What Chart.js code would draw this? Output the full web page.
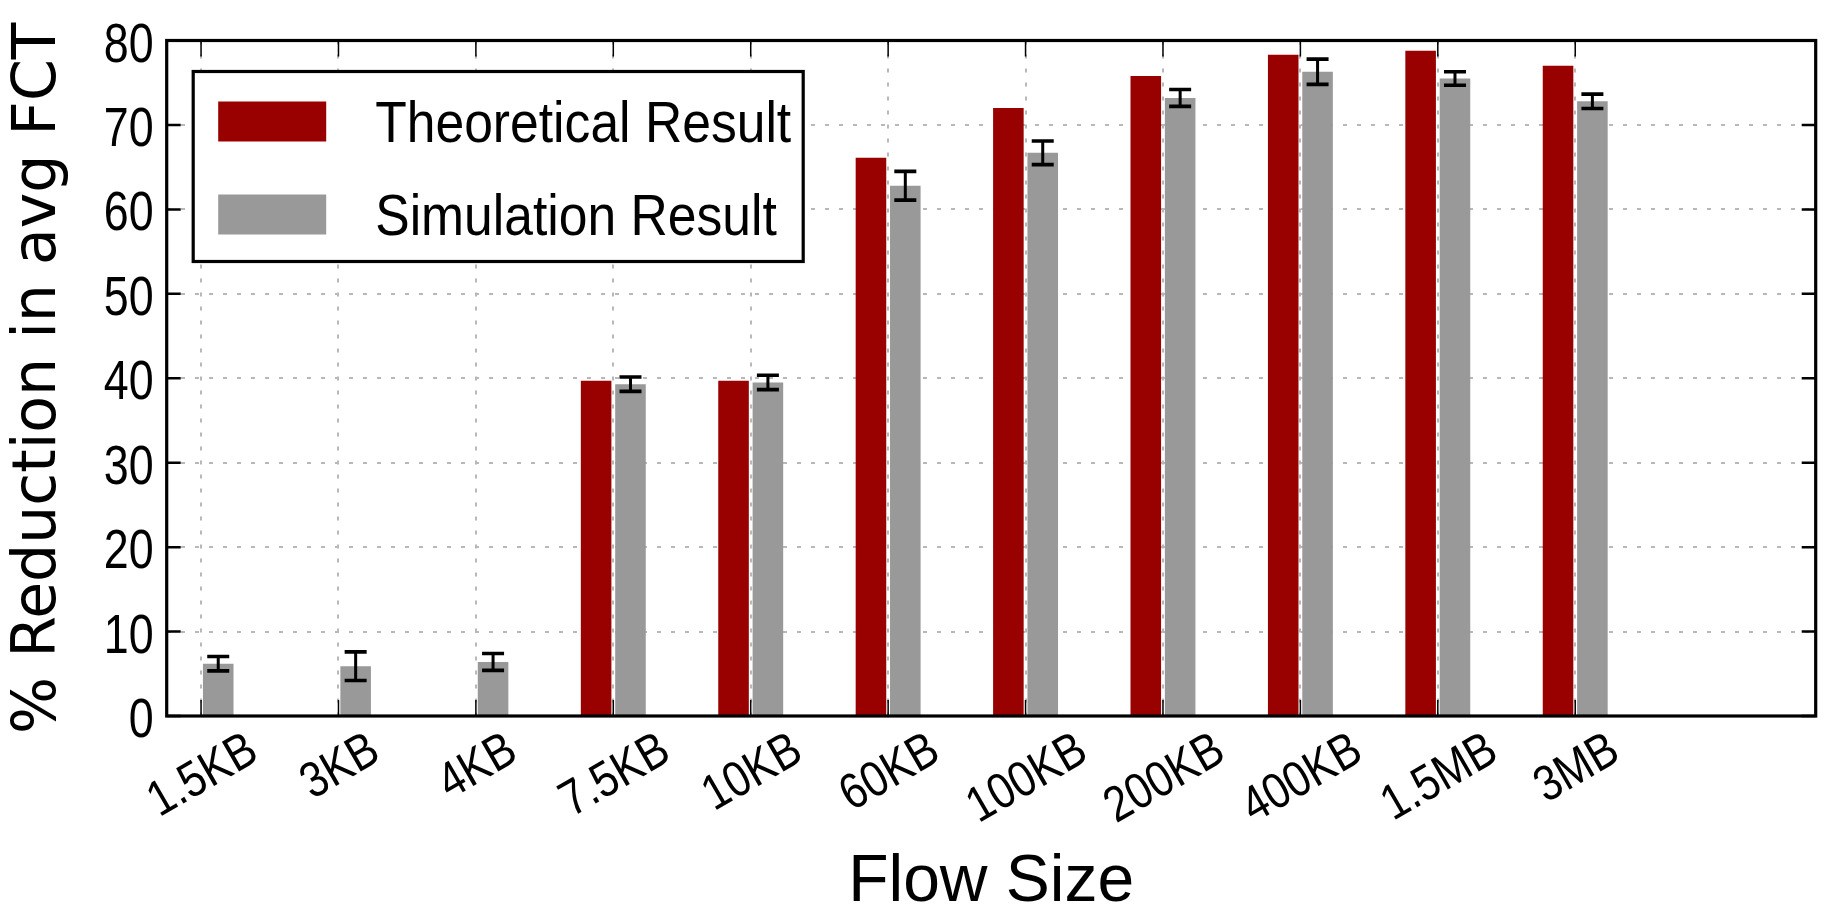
<!DOCTYPE html>
<html>
<head>
<meta charset="utf-8">
<script src="https://cdn.jsdelivr.net/npm/chart.js@4.4.1/dist/chart.umd.min.js"></script>
<style>
  html, body { margin: 0; padding: 0; background: #ffffff; }
  #wrap { width: 1825px; height: 914px; }
</style>
</head>
<body>
<div id="wrap"><canvas id="chart" width="1825" height="914"></canvas></div>
<script>
// Flow-size categories and measured reductions (%) in average FCT
const flowSizes = ['1.5KB', '3KB', '4KB', '7.5KB', '10KB', '60KB', '100KB', '200KB', '400KB', '1.5MB', '3MB'];
const theoretical = [null, null, null, 39.7, 39.7, 66.1, 72.0, 75.8, 78.3, 78.8, 77.0];
const simulation = [6.2, 5.9, 6.4, 39.3, 39.5, 62.8, 66.7, 73.2, 76.3, 75.5, 72.8];
const simulationErr = [0.85, 1.7, 1.0, 0.85, 0.85, 1.7, 1.4, 1.0, 1.5, 0.8, 0.85];
const yTickValues = [0, 10, 20, 30, 40, 50, 60, 70, 80];

const SANS = '"Liberation Sans", Arial, sans-serif';
const RED = '#990000';
const GREY = '#999999';

// text squeezed horizontally to get a narrow face
function narrowText(ctx, text, x, y, size, align, squeeze, angle) {
  ctx.save();
  ctx.translate(x, y);
  if (angle) ctx.rotate(angle);
  ctx.scale(squeeze, 1);
  ctx.font = size + 'px ' + SANS;
  ctx.textAlign = align;
  ctx.textBaseline = 'alphabetic';
  ctx.fillText(text, 0, 0);
  ctx.restore();
}

// Error bars, inward tick marks, axes frame, tick labels, boxed legend
const decorations = {
  id: 'decorations',
  afterDraw(chart) {
    const { ctx, chartArea: a, scales: { x, y } } = chart;
    ctx.save();
    ctx.fillStyle = '#000';
    ctx.strokeStyle = '#000';

    // error bars on the simulation bars
    const simMeta = chart.getDatasetMeta(1);
    simMeta.data.forEach((bar, i) => {
      const v = simulation[i];
      const e = simulationErr[i];
      if (v == null) return;
      const cx = bar.x;
      const yt = y.getPixelForValue(v + e);
      const yb = y.getPixelForValue(v - e);
      ctx.lineWidth = 3;
      ctx.beginPath();
      ctx.moveTo(cx, yt); ctx.lineTo(cx, yb);
      ctx.stroke();
      ctx.lineWidth = 3.6;
      ctx.beginPath();
      ctx.moveTo(cx - 11, yt); ctx.lineTo(cx + 11, yt);
      ctx.moveTo(cx - 11, yb); ctx.lineTo(cx + 11, yb);
      ctx.stroke();
    });

    // tick marks pointing into the plot on all four sides
    ctx.lineWidth = 1.5;
    x.ticks.forEach((t) => {
      const px = x.getPixelForValue(t.value);
      ctx.beginPath();
      ctx.moveTo(px, a.top); ctx.lineTo(px, a.top + 16);
      ctx.moveTo(px, a.bottom); ctx.lineTo(px, a.bottom - 16);
      ctx.stroke();
    });
    ctx.lineWidth = 2.5;
    y.ticks.forEach((t) => {
      const py = y.getPixelForValue(t.value);
      ctx.beginPath();
      ctx.moveTo(a.left, py); ctx.lineTo(a.left + 14, py);
      ctx.moveTo(a.right, py); ctx.lineTo(a.right - 14, py);
      ctx.stroke();
    });

    // axes frame
    ctx.lineWidth = 3.2;
    ctx.strokeRect(a.left, a.top, a.right - a.left, a.bottom - a.top);

    // value labels on the y axis
    const ySize = 56;
    y.ticks.forEach((t) => {
      const py = y.getPixelForValue(t.value);
      narrowText(ctx, String(t.value), a.left - 13, py + 0.716 * ySize / 2 + 1, ySize, 'right', 0.8, 0);
    });

    // category labels, slanted 30 degrees and centred under each tick
    const theta = 30 * Math.PI / 180;
    const xSize = 50;
    const xSqueeze = 0.86;
    ctx.font = xSize + 'px ' + SANS;
    flowSizes.forEach((label, i) => {
      const px = x.getPixelForValue(i);
      const L = ctx.measureText(label).width * xSqueeze;
      const H = 0.716 * xSize;
      const wb = L * Math.cos(theta) + H * Math.sin(theta);
      const hb = L * Math.sin(theta) + H * Math.cos(theta);
      const cy = a.bottom + 12 + hb / 2;
      // start of baseline so the rotated box is centred on (px, cy)
      const bx = px - wb / 2 + H * Math.sin(theta);
      const by = cy + hb / 2;
      narrowText(ctx, label, bx, by, xSize, 'left', xSqueeze, -theta);
    });

    // legend box
    const box = { x: a.left + 26.5, y: a.top + 31, w: 610, h: 190 };
    ctx.fillStyle = '#ffffff';
    ctx.fillRect(box.x, box.y, box.w, box.h);
    ctx.lineWidth = 3.2;
    ctx.strokeRect(box.x, box.y, box.w, box.h);
    const rows = [50, 143];
    const lSize = 58;
    chart.data.datasets.forEach((ds, i) => {
      const cy = box.y + rows[i];
      ctx.fillStyle = ds.backgroundColor;
      ctx.fillRect(box.x + 25, cy - 20, 108, 40);
      ctx.fillStyle = '#000';
      narrowText(ctx, ds.label, box.x + 182, cy + 0.716 * lSize / 2, lSize, 'left', 0.89, 0);
    });

    ctx.restore();
  }
};

new Chart(document.getElementById('chart'), {
  type: 'bar',
  data: {
    datasets: [
      {
        label: 'Theoretical Result',
        data: theoretical.map((v, i) => ({ x: i, y: v })),
        backgroundColor: RED,
        borderWidth: 0
      },
      {
        label: 'Simulation Result',
        data: simulation.map((v, i) => ({ x: i, y: v })),
        backgroundColor: GREY,
        borderWidth: 0
      }
    ]
  },
  options: {
    responsive: false,
    animation: false,
    devicePixelRatio: 1,
    categoryPercentage: 0.5,
    barPercentage: 0.89,
    layout: { padding: { left: 0, top: 40.5, right: 9.3, bottom: 0 } },
    plugins: { legend: { display: false }, tooltip: { enabled: false } },
    scales: {
      x: {
        type: 'linear',
        min: -0.25,
        max: 11.75,
        offset: false,
        z: 1,
        afterBuildTicks: (scale) => { scale.ticks = flowSizes.map((_, i) => ({ value: i })); },
        afterFit: (scale) => { scale.height = 198; },
        ticks: { display: false },
        grid: { offset: false, color: '#b8b8b8', lineWidth: 2, drawTicks: false },
        border: { display: false, dash: [4, 10] },
        title: {
          display: true,
          text: 'Flow Size',
          color: '#000',
          font: { family: SANS, size: 66, lineHeight: 0.95 },
          padding: { top: 0, bottom: 0 }
        }
      },
      y: {
        min: 0,
        max: 80,
        z: 1,
        afterBuildTicks: (scale) => { scale.ticks = yTickValues.map((v) => ({ value: v })); },
        afterFit: (scale) => { scale.width = 166.7; },
        ticks: { display: false },
        grid: { color: '#b8b8b8', lineWidth: 2, drawTicks: false },
        border: { display: false, dash: [4, 10] },
        title: {
          display: true,
          text: '% Reduction in avg FCT',
          color: '#000',
          font: { family: '"DejaVu Sans", sans-serif', size: 60, lineHeight: 1.2 },
          padding: { top: 3, bottom: 0 }
        }
      }
    }
  },
  plugins: [decorations]
});
</script>
</body>
</html>
